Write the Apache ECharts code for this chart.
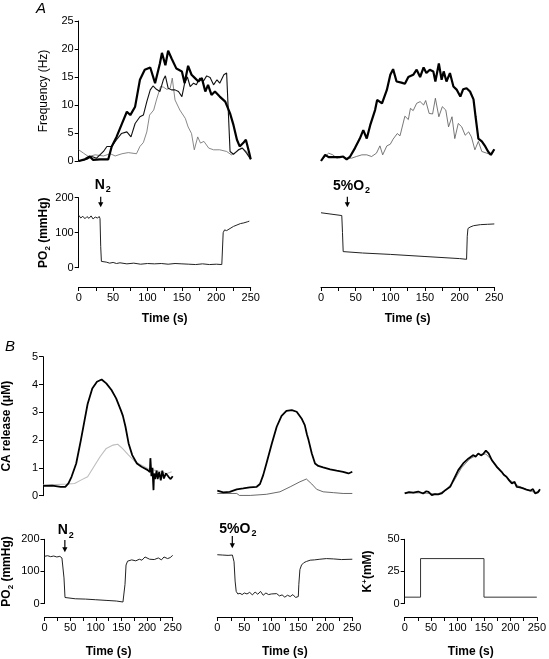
<!DOCTYPE html>
<html><head><meta charset="utf-8">
<script src="https://cdn.jsdelivr.net/npm/echarts@6/dist/echarts.min.js"></script>
<style>html,body{margin:0;padding:0;background:#fff}#c{width:549px;height:659px}</style>
</head><body><div id="c"></div>
<script>
// ---- Data (time in s) ----
const timeTicks = [0,50,100,150,200,250];
// A: frequency, N2 (left)
const fA1thick_t = [0,9,16,21,31,43,48,55,62,70,75,82,89,96,104,111,118,121,126,130,135,142,150,154,159,164,169,174,179,184,188,193,198,205,213,220,225,230,234,239,243,248,250];
const fA1thick_v = [0,0.3,0.8,0.2,0.3,0.3,2.6,4.3,6.4,8.8,8.2,9.7,14.5,16.3,16.7,13.9,17.4,19.3,17.1,19.7,18.3,16.5,16,13.9,17,15.4,14.8,14.2,14.8,12.4,13.6,11.8,12.4,11.5,10.6,8.5,6.4,3.8,2.6,3.2,3.8,1.4,0.3];
const fA1med_t = [0,12,19,26,36,41,48,55,62,70,76,82,89,94,99,104,108,113,118,123,126,130,135,140,145,150,154,158,162,167,171,176,181,186,191,196,201,205,211,215,220,225,232,238,244,250];
const fA1med_v = [0,0.3,0.8,0.5,1.7,2.6,2.6,3.8,4.9,5.2,4.3,6.7,7.9,8.2,10.6,12.7,13.4,12.8,12.4,14.5,15.2,13,12.7,12.7,12.4,11.5,13.9,15,13.3,13.9,13.6,14.8,14.2,15.2,14.9,13.6,14.5,13.9,15.4,15.7,1.7,1.2,2,2.3,1.4,0.3];
const fA1thin_t = [0,7,14,24,36,46,53,63,72,84,89,94,99,103,109,113,119,123,128,133,136,140,147,155,159,164,168,173,177,182,189,196,205,215,222,230,237,244,250];
const fA1thin_v = [2,1.4,0.8,1.1,0.9,1.3,0.9,1.3,1.5,1.3,2.6,3.3,5.2,8.2,9.1,10.9,13.3,13.2,12.8,13,14.8,10.9,9.1,7.6,6.1,4.9,2,4.3,3.2,3.5,2.3,2,2,1.7,1.1,1.7,2.3,1.7,0.5];
// A: frequency, 5% O2 (right)
const fA2thick_t = [0,6,11,18,27,32,37,42,49,56,61,66,71,78,81,88,95,100,104,109,116,121,126,133,138,143,148,152,157,162,165,170,174,177,181,186,191,196,201,205,210,215,220,223,227,232,237,241,245,250];
const fA2thick_v = [0,1.1,0.7,0.7,0.7,0.8,0.3,0.8,2.3,4,5.5,4,6.4,9.1,10.9,10.3,12.7,15.4,16.4,14.2,14,13.8,15,15.4,16.3,15,16.7,15.7,16.3,16,14.2,17.4,14.5,16,14.2,15.7,13.3,12.7,11.5,12.8,13,12.4,11,7.9,4,3.5,2.6,1.7,1.1,2.1];
const fA2thin_t = [0,6,11,17,23,30,37,44,51,59,66,73,80,85,89,95,100,104,110,114,121,126,129,133,138,143,148,151,156,161,165,170,175,180,184,189,193,198,203,208,213,217,222,227,232,239,246,250];
const fA2thin_v = [0,0.8,1.4,1.1,0.5,0.8,0.5,0.5,0.8,1.1,1.1,0.8,1.4,2.7,1.1,2.7,3,3.9,4.9,4.5,8,7.4,9.4,9,10.3,10.6,10,10.8,8.5,8.4,11.2,7.9,9.7,9.1,6.1,7.9,4,6.7,6.1,4.6,5.2,4.3,2,3.5,1.7,1.4,1.1,2];
// A: PO2
const pA1_t = [0,3,6,9,12,15,18,21,24,27,30,31,32,33,35,40,45,50,55,60,70,80,90,100,110,120,130,140,150,160,170,180,190,200,208,209,210,212,215,220,225,230,235,240,245,248];
const pA1_v = [150,142,147,140,146,141,148,139,145,142,146,140,60,18,15,16,13,15,12,14,11,13,10,12,11,12,10,12,11,10,9,11,9,10,9,12,100,108,106,112,118,122,126,128,131,133];
const pA2_t = [0,30,31,32,33,60,100,150,200,210,211,212,215,220,230,240,250];
const pA2_v = [157,149,100,46,45,42,38,32,26,24,90,112,116,120,123,124,125];
// B: CA release
const caL_t = [0,18,34,43,49,55,64,73,80,86,95,104,113,122,132,141,150,154,159,165,172,181,190,202,206,207,209,211,213,214,216,219,221,224,227,230,233,237,242,246,250];
const caL_v = [0.35,0.36,0.32,0.32,0.44,0.68,1.16,2,2.7,3.3,3.86,4.1,4.18,4.04,3.8,3.5,3.08,2.87,2.48,1.88,1.46,1.16,1.04,0.92,0.85,1.35,0.7,1.0,0.2,0.8,0.6,0.9,0.6,0.85,0.55,0.9,0.62,0.8,0.68,0.6,0.7];
const caLg_t = [0,49,61,73,86,98,110,122,135,144,153,165,178,190,202,214,227,239,248];
const caLg_v = [0.38,0.42,0.44,0.56,0.68,1.04,1.4,1.7,1.82,1.85,1.7,1.46,1.22,1.1,0.98,0.92,0.86,0.8,0.86];
const caM_t = [0,11,23,36,48,60,73,79,85,91,101,110,119,128,138,147,156,162,166,169,175,181,187,196,209,221,233,243,250];
const caM_v = [0.18,0.12,0.14,0.23,0.26,0.3,0.32,0.42,0.74,1.16,1.88,2.48,2.87,3.05,3.08,3.02,2.78,2.54,2.2,2.0,1.52,1.16,1.07,1.02,0.95,0.9,0.86,0.8,0.86];
const caMg_t = [0,36,41,61,91,116,135,153,165,175,184,196,215,233,250];
const caMg_v = [0.08,0.08,0.01,0.01,0.05,0.14,0.32,0.5,0.6,0.42,0.23,0.14,0.11,0.08,0.08];
const caR_t = [0,8,16,25,34,40,44,50,56,62,68,75,84,90,99,108,118,127,131,136,141,145,150,155,158,161,170,179,183,188,193,198,203,207,213,219,225,232,237,241,246,250];
const caR_v = [0.08,0.13,0.11,0.15,0.08,0.16,0.14,0.02,0.06,0.05,0.08,0.2,0.32,0.56,0.92,1.16,1.34,1.46,1.4,1.52,1.45,1.5,1.62,1.52,1.45,1.28,1.04,0.86,0.75,0.68,0.55,0.44,0.5,0.32,0.3,0.26,0.22,0.18,0.24,0.08,0.12,0.23];
const caRg_t = [0,30,60,75,90,105,120,135,150,165,180,195,210,225,240,250];
const caRg_v = [0.1,0.1,0.06,0.18,0.5,1.0,1.32,1.48,1.5,1.2,0.85,0.55,0.35,0.22,0.12,0.15];
// B: PO2 and K+
const pB1_t = [0,6,12,18,24,30,34,37,38,40,43,60,80,100,120,140,153,155,156,157,159,162,165,170,178,185,190,196,205,214,222,228,233,240,245,250];
const pB1_v = [147,149,146,148,145,147,142,145,80,19,16,15,14,12,10,8,5,6,9.7,60,120,132,137,136,133,138,135,145,138,137,142,136,145,140,143,150];
const pB2_t = [0,10,20,28,30,31,33,35,38,42,46,50,55,60,65,70,75,80,85,90,95,100,110,115,120,125,130,135,140,145,150,151,153,156,160,165,172,180,190,202,215,230,250];
const pB2_v = [152,151,150,151,149,130,70,38,30,32,28,33,30,35,27,36,29,38,26,33,28,30,31,24,27,20,26,22,28,19,22,60,106,120,127,131,135,136,138,140,139,137,138];
const k_t = [0,30,30,150,150,250];
const k_v = [5,5,35,35,5,5];

// ---- Chart ----
const FONT = "'Liberation Sans', Arial, sans-serif";
const P = (t, v) => t.map((x, i) => [x, v[i]]);
const chart = echarts.init(document.getElementById('c'), null, {renderer: 'canvas'});

const grids = [
  {left: 78.7, top: 21, width: 172, height: 140},
  {left: 78.7, top: 197.7, width: 172, height: 70},
  {left: 321, top: 21, width: 173.3, height: 140},
  {left: 321, top: 197.7, width: 173.3, height: 70},
  {left: 36.7, top: 356.7, width: 136, height: 139},
  {left: 36.7, top: 539.3, width: 136, height: 69},
  {left: 217.3, top: 356.7, width: 135, height: 139},
  {left: 217.3, top: 539.3, width: 135, height: 69},
  {left: 404.7, top: 356.7, width: 135.3, height: 139},
  {left: 404.7, top: 539.3, width: 135.3, height: 69}
];

function xAx(gi, show, offset, gap) {
  return {
    type: 'value', gridIndex: gi, min: 0, max: 250, interval: 50, show: show, offset: offset || 0,
    axisLine: {show: true, onZero: false, lineStyle: {color: '#000', width: 1}},
    axisTick: {show: true, length: 4, lineStyle: {color: '#000'}},
    minorTick: {show: true, splitNumber: 2, length: 4, lineStyle: {color: '#000'}},
    splitLine: {show: false}, minorSplitLine: {show: false},
    axisLabel: {show: true, color: '#000', fontSize: 11, fontFamily: FONT, margin: 5},
    name: show ? 'Time (s)' : '', nameLocation: 'middle', nameGap: gap || 26,
    nameTextStyle: {color: '#000', fontSize: 12, fontWeight: 'bold', fontFamily: FONT}
  };
}
const richName = {
  a: {fontSize: 12, fontWeight: 'bold', fontFamily: FONT, color: '#000'},
  s: {fontSize: 8, fontWeight: 'bold', fontFamily: FONT, color: '#000', verticalAlign: 'bottom', padding: [7, 0, 0, 0]},
  p: {fontSize: 8, fontWeight: 'bold', fontFamily: FONT, color: '#000', padding: [0, 0, 6, 0]}
};
function yAx(gi, show, min, max, interval, name, gap, bold) {
  return {
    type: 'value', gridIndex: gi, min: min, max: max, interval: interval, show: show,
    axisLine: {show: true, onZero: false, lineStyle: {color: '#000', width: 1}},
    axisTick: {show: true, length: 4, lineStyle: {color: '#000'}},
    splitLine: {show: false},
    axisLabel: {color: '#000', fontSize: 11, fontFamily: FONT, margin: 5},
    name: name || '', nameLocation: 'middle', nameRotate: 90, nameGap: gap || 30,
    nameTextStyle: {color: '#000', fontSize: 12, fontWeight: bold ? 'bold' : 'normal', fontFamily: FONT, rich: richName}
  };
}

const xAxis = [
  xAx(0, false), xAx(1, true, 19.3, 26),
  xAx(2, false), xAx(3, true, 19.3, 26),
  xAx(4, false), xAx(5, true, 13.4, 29),
  xAx(6, false), xAx(7, true, 13.4, 29),
  xAx(8, false), xAx(9, true, 13.4, 29)
];
const yAxis = [
  yAx(0, true, 0, 25, 5, 'Frequency (Hz)', 29, false),
  yAx(1, true, 0, 200, 100, '{a|PO}{s|2}{a| (mmHg)}', 27, true),
  yAx(2, false, 0, 25, 5),
  yAx(3, false, 0, 200, 100),
  yAx(4, true, 0, 5, 1, 'CA release (\u03bcM)', 30, true),
  yAx(5, true, 0, 200, 100, '{a|PO}{s|2}{a| (mmHg)}', 30, true),
  yAx(6, false, 0, 5, 1),
  yAx(7, false, 0, 200, 100),
  yAx(8, false, 0, 5, 1),
  yAx(9, true, 0, 50, 25, '{a|K}{p|+}{a|(mM)}', 30, true)
];

function ln(i, data, color, width, z) {
  return {type: 'line', xAxisIndex: i, yAxisIndex: i, data: data, showSymbol: false, symbol: 'none',
    lineStyle: {color: color, width: width}, z: z || 2, silent: true, clip: true};
}
const series = [
  ln(0, P(fA1thin_t, fA1thin_v), '#6a6a6a', 0.8, 1),
  ln(0, P(fA1med_t, fA1med_v), '#111', 1.1, 2),
  ln(0, P(fA1thick_t, fA1thick_v), '#000', 2.2, 3),
  ln(1, P(pA1_t, pA1_v), '#222', 1, 2),
  ln(2, P(fA2thin_t, fA2thin_v), '#555', 0.8, 1),
  ln(2, P(fA2thick_t, fA2thick_v), '#000', 2.2, 3),
  ln(3, P(pA2_t, pA2_v), '#222', 1, 2),
  ln(4, P(caLg_t, caLg_v), '#bdbdbd', 1.1, 1),
  ln(4, P(caL_t, caL_v), '#000', 1.8, 3),
  ln(5, P(pB1_t, pB1_v), '#222', 1, 2),
  ln(6, P(caMg_t, caMg_v), '#444', 0.8, 1),
  ln(6, P(caM_t, caM_v), '#000', 1.8, 3),
  ln(7, P(pB2_t, pB2_v), '#222', 1, 2),
  ln(8, P(caRg_t, caRg_v), '#777', 0.9, 1),
  ln(8, P(caR_t, caR_v), '#000', 1.8, 3),
  ln(9, P(k_t, k_v), '#333', 1, 2)
];

chart.setOption({
  animation: false,
  backgroundColor: '#fff',
  textStyle: {fontFamily: FONT},
  grid: grids, xAxis: xAxis, yAxis: yAxis, series: series
});

// Annotations: arrows and gas labels placed through the axes' scales
const annots = [
  {grid: 1, t: 32, y0: 203, y1: 173, lt: 35, ly: 236, label: '{b|N}{s|2}'},
  {grid: 3, t: 38, y0: 203, y1: 173, lt: 44, ly: 233, label: '{b|5%O}{s|2}'},
  {grid: 5, t: 39.7, y0: 198, y1: 160, lt: 41.5, ly: 227, label: '{b|N}{s|2}'},
  {grid: 7, t: 27.8, y0: 210, y1: 172, lt: 38, ly: 233, label: '{b|5%O}{s|2}'}
];
const graphics = [
  {type: 'text', left: 36, top: 1, style: {text: 'A', font: 'italic 15px ' + FONT, fill: '#000'}},
  {type: 'text', left: 5, top: 339, style: {text: 'B', font: 'italic 15px ' + FONT, fill: '#000'}}
];
annots.forEach(a => {
  const f = {xAxisIndex: a.grid, yAxisIndex: a.grid};
  const p0 = chart.convertToPixel(f, [a.t, a.y0]);
  const p1 = chart.convertToPixel(f, [a.t, a.y1]);
  const pl = chart.convertToPixel(f, [a.lt, a.ly]);
  graphics.push({type: 'line', shape: {x1: p0[0], y1: p0[1], x2: p1[0], y2: p1[1] - 4}, style: {stroke: '#000', lineWidth: 1.2}});
  graphics.push({type: 'polygon', shape: {points: [[p1[0] - 2.6, p1[1] - 5], [p1[0] + 2.6, p1[1] - 5], [p1[0], p1[1]]]}, style: {fill: '#000'}});
  graphics.push({type: 'text', x: pl[0], y: pl[1], style: {
    text: a.label, align: 'center', verticalAlign: 'middle',
    rich: {
      b: {fontSize: 14, fontWeight: 'bold', fontFamily: FONT, fill: '#000'},
      s: {fontSize: 9, fontWeight: 'bold', fontFamily: FONT, fill: '#000', padding: [9, 0, 0, 1]}
    }
  }});
});
chart.setOption({graphic: graphics});
</script>
</body></html>
